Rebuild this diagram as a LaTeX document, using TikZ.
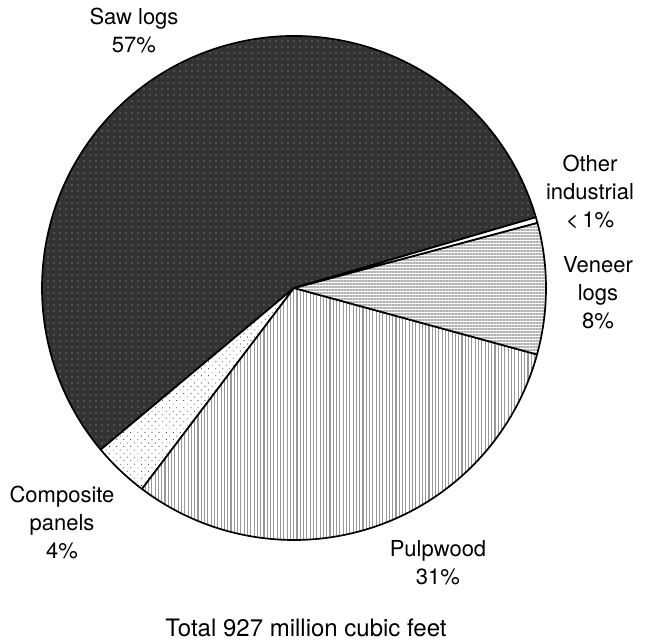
\documentclass[tikz,border=0pt]{standalone}
\usepackage{fontspec}
\setmainfont{TeX Gyre Heros}
\usetikzlibrary{patterns.meta}

\begin{document}
\begin{tikzpicture}[x=1pt,y=1pt,
    slice/.style={draw=black,line width=1.7pt,line join=round},
    sawlogs/.style={slice,preaction={fill=black!80},
        pattern={Dots[distance=6pt,radius=0.7pt]},pattern color=black!30},
    veneer/.style={slice,preaction={fill=white},
        pattern={Lines[angle=0,distance=3pt,line width=2pt]},pattern color=black!30},
    pulpwood/.style={slice,preaction={fill=white},
        pattern={Lines[angle=90,distance=3.3pt,line width=1.1pt]},pattern color=black!40},
    composite/.style={slice,preaction={fill=white},
        pattern={Dots[distance=5pt,radius=0.5pt,angle=45]},pattern color=black},
    other/.style={slice,fill=white},
    lbl/.style={align=center,inner sep=0pt,font=\fontsize{22}{28}\selectfont}]

\useasboundingbox (0,0) rectangle (647,641);
\coordinate (O) at (294,353);

% slices
\path[sawlogs]   (O) -- ++(16.3:252)  arc[start angle=16.3,end angle=219.9,radius=252] -- cycle;
\path[composite] (O) -- ++(219.9:252) arc[start angle=219.9,end angle=232.9,radius=252] -- cycle;
\path[pulpwood]  (O) -- ++(232.9:252) arc[start angle=232.9,end angle=344.7,radius=252] -- cycle;
\path[veneer]    (O) -- ++(-15.3:252) arc[start angle=-15.3,end angle=15,radius=252] -- cycle;
\path[other]     (O) -- ++(15:252)    arc[start angle=15,end angle=16.3,radius=252] -- cycle;

% labels
\node[lbl] (sawlbl)   at (134,610) {Saw logs\\57\%};
\node[lbl] (otherlbl) at (590,449) {Other\\industrial\\{<}\,1\%};
\node[lbl] (veneerlbl) at (598,348) {Veneer\\logs\\8\%};
\node[lbl] (complbl)  at (62,119)  {Composite\\panels\\4\%};
\node[lbl] (pulplbl)  at (438,78)  {Pulpwood\\31\%};
\node[inner sep=0pt,font=\fontsize{24}{28}\selectfont] (total) at (306,13) {Total 927 million cubic feet};

\end{tikzpicture}
\end{document}
